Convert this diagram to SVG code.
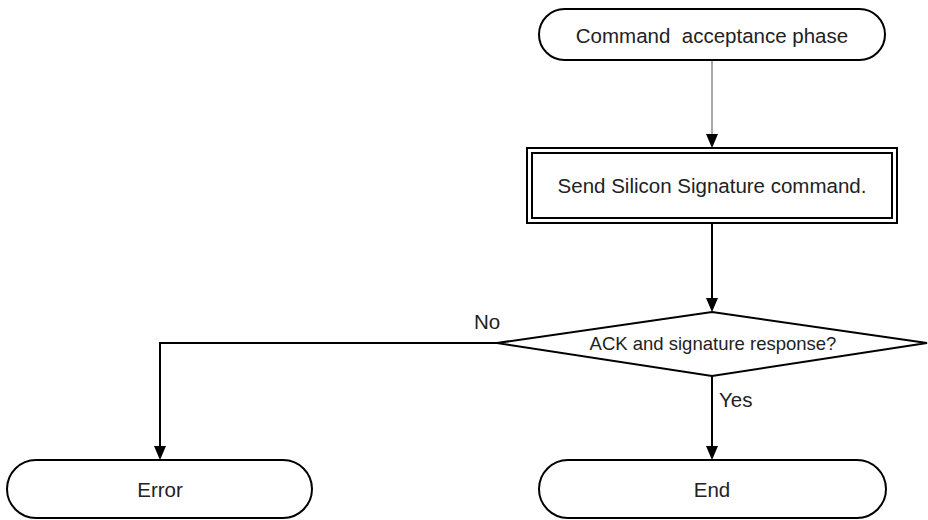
<svg xmlns="http://www.w3.org/2000/svg" width="928" height="520" viewBox="0 0 928 520">
<style>
.sh{fill:#fff;stroke:#000;stroke-width:2}
.t{font-family:"Liberation Sans",Arial,sans-serif;font-size:20.5px;fill:#222}
.s{font-size:18.5px}
.c{fill:none;stroke:#000;stroke-width:2}
</style>
<rect width="928" height="520" fill="#fff"/>
<g id="connectors">
<path d="M712,60 V136" fill="none" stroke="#555" stroke-width="1"/>
<path d="M706,134 L718,134 L712,148 Z" fill="#000"/>
<path class="c" d="M712,223 V298"/>
<path d="M706,298 L718,298 L712,312 Z" fill="#000"/>
<path class="c" d="M497,343 H160 V446"/>
<path d="M154,446 L166,446 L160,460 Z" fill="#000"/>
<path class="c" d="M712,376 V446"/>
<path d="M706,446 L718,446 L712,460 Z" fill="#000"/>
<text class="t" x="487" y="329" text-anchor="middle">No</text>
<text class="t" x="719" y="407">Yes</text>
</g>
<g id="start">
<rect class="sh" x="539" y="9" width="346" height="51" rx="25.5"/>
<text class="t" x="712" y="43" text-anchor="middle" xml:space="preserve">Command  acceptance phase</text>
</g>
<g id="send">
<rect class="sh" x="527" y="148" width="370" height="75"/>
<rect class="sh" x="532" y="153" width="360" height="65"/>
<text class="t" x="712" y="193" text-anchor="middle">Send Silicon Signature command.</text>
</g>
<g id="decision">
<polygon class="sh" points="712,312 927,343 712,376 497,343"/>
<text class="t s" x="713" y="350" text-anchor="middle">ACK and signature response?</text>
</g>
<g id="error">
<rect class="sh" x="7" y="460" width="305" height="58" rx="29"/>
<text class="t" x="160" y="497" text-anchor="middle">Error</text>
</g>
<g id="end">
<rect class="sh" x="539" y="460" width="347" height="58" rx="29"/>
<text class="t" x="712" y="497" text-anchor="middle">End</text>
</g>
</svg>
